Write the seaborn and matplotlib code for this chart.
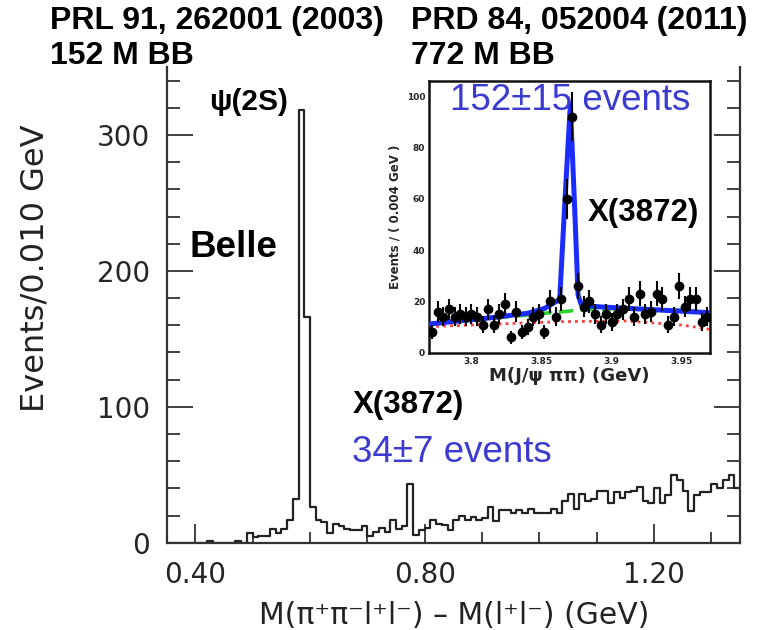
import numpy as np
import pandas as pd
import matplotlib
matplotlib.use("Agg")
import matplotlib.pyplot as plt
import seaborn as sns

# ---- main spectrum: M(pi+ pi- l+ l-) - M(l+ l-), 0.010 GeV bins from 0.35 to 1.35 ----
bin_lo = 0.35
bin_hi = 1.35
bin_w = 0.01
counts = [
    0, 0, 0, 0, 0, 0, 0, 1, 0, 0,          # 0.35-0.44
    0, 0, 1, 0, 7, 4, 5, 5, 10, 7,         # 0.45-0.54
    10, 17, 32, 318, 166, 26, 17, 15, 7, 14,  # 0.55-0.64
    12, 10, 9, 9, 12, 5, 8, 11, 8, 17,     # 0.65-0.74
    10, 12, 43, 6, 9, 11, 17, 14, 13, 9,   # 0.75-0.84
    17, 20, 17, 19, 17, 18, 26, 16, 24, 24,  # 0.85-0.94
    22, 24, 22, 25, 22, 22, 22, 25, 22, 31,  # 0.95-1.04
    36, 25, 36, 31, 32, 38, 38, 29, 37, 33,  # 1.05-1.14
    37, 38, 41, 31, 29, 40, 29, 35, 50, 46,  # 1.15-1.24
    38, 23, 35, 37, 37, 43, 40, 46, 50, 40,  # 1.25-1.34
]
x_ticks = [0.40, 0.80, 1.20]
x_tick_labels = ["0.40", "0.80", "1.20"]
y_ticks = [0, 100, 200, 300]

# ---- inset: M(J/psi pi pi), 0.004 GeV bins from 3.77 to 3.97 ----
inset_lo = 3.77
inset_w = 0.004
inset_n = [
    8, 16, 14, 17, 14, 15, 14, 15, 14, 11,
    17, 11, 15, 19, 6, 16, 8, 10, 14, 15,
    8, 20, 14, 21, 60, 92, 26, 18, 20, 15,
    11, 15, 12, 15, 17, 21, 14, 23, 15, 16,
    23, 21, 11, 14, 26, 18, 21, 21, 12, 14,
]
inset_xticks = [3.80, 3.85, 3.90, 3.95]
inset_xlabels = ["3.8", "3.85", "3.9", "3.95"]
inset_yticks = [0, 20, 40, 60, 80, 100]
# fit curves
fit_x = [3.770, 3.8166, 3.8403, 3.8522, 3.8629, 3.8667, 3.8705, 3.8733,
         3.8760, 3.8784, 3.8879, 3.9116, 3.970]
fit_y = [11.2, 13.8, 15.4, 17.3, 20.8, 60.0, 97.0, 60.0,
         22.5, 18.6, 18.0, 17.3, 15.6]
bkg_x = [3.770, 3.8166, 3.8522, 3.865, 3.880, 3.910, 3.950, 3.970]
bkg_y = [11.2, 13.5, 15.4, 16.0, 16.8, 17.3, 16.5, 15.6]
comb_x = [3.770, 3.800, 3.863, 3.910, 3.950, 3.970]
comb_y = [10.2, 10.8, 12.1, 12.4, 10.8, 9.1]

W, H = 763, 630
BLUE_TXT = "#3b3bd2"
NATIVE = ["DejaVu Sans"]
OVER = ["Liberation Sans", "DejaVu Sans"]

sns.set_theme(style="white")
plt.rcParams["font.family"] = NATIVE
plt.rcParams["axes.edgecolor"] = "#333333"

fig = plt.figure(figsize=(W / 100, H / 100), dpi=100)


def fx(px):
    return px / W


def fy(py):
    return 1 - py / H


# ---------------- main histogram ----------------
ax = fig.add_axes([fx(166.7), fy(542.7), fx(740) - fx(166.7), fy(67) - fy(542.7)])
centers = bin_lo + bin_w * (np.arange(len(counts)) + 0.5)
df = pd.DataFrame({"mass": centers, "n": counts})
sns.histplot(data=df, x="mass", weights="n", binwidth=bin_w, binrange=(bin_lo, bin_hi),
             element="step", fill=False, color="#222222", linewidth=1.6, ax=ax)
ax.set_xlim(bin_lo, bin_hi)
ax.set_ylim(0, 350)
ax.set_xticks(x_ticks)
ax.set_xticklabels(x_tick_labels)
ax.set_xticks(np.arange(0.4, 1.35, 0.1), minor=True)
ax.set_yticks(y_ticks)
ax.set_yticks(np.arange(0, 350, 20), minor=True)
for s in ["left", "bottom", "right"]:
    ax.spines[s].set_linewidth(1.6)
    ax.spines[s].set_color("#333333")
ax.spines["top"].set_visible(False)
ax.tick_params(axis="both", which="both", direction="in", color="#333333", width=1.3)
ax.tick_params(axis="y", which="major", length=19, right=True, left=True, labelsize=20, pad=12)
ax.tick_params(axis="y", which="minor", length=9.5, right=True, left=True)
ax.tick_params(axis="x", which="major", length=14, bottom=True, labelsize=20, pad=13)
ax.tick_params(axis="x", which="minor", length=8, bottom=True)
ax.set_xlabel("M(π⁺π⁻l⁺l⁻) – M(l⁺l⁻) (GeV)", fontsize=21.5, color="#222222")
ax.xaxis.set_label_coords((454 - 166.7) / 573.3, -(615 - 542.7) / 475.7)
ax.xaxis.label.set_va("center")
ax.set_ylabel("Events/0.010 GeV", fontsize=23, color="#222222")
ax.yaxis.set_label_coords((35 - 166.7) / 573.3, (542.7 - 268) / 475.7)
ax.yaxis.label.set_va("center")
ax.grid(False)

# ---------------- inset: X(3872) -> J/psi pi pi ----------------
ins = fig.add_axes([fx(429.3), fy(352.7), fx(710) - fx(429.3), fy(81) - fy(352.7)])
ins.set_facecolor("white")
inset_x = inset_lo + inset_w * (np.arange(len(inset_n)) + 0.5)
sns.lineplot(x=comb_x, y=comb_y, color="#ff3b3b", linestyle=(0, (1, 1.5)),
             linewidth=2.0, ax=ins)
sns.lineplot(x=bkg_x, y=bkg_y, color="#2bd42b", linestyle=(0, (4, 2)),
             linewidth=2.6, ax=ins)
sns.lineplot(x=fit_x, y=fit_y, color="#1a2cff", linewidth=3.6, ax=ins, zorder=3)
ins.errorbar(inset_x, inset_n, yerr=np.sqrt(inset_n), xerr=inset_w / 2, fmt="o",
             color="black", ms=6, elinewidth=1.5, capsize=0, zorder=4)
ins.set_xlim(inset_lo, inset_lo + inset_w * len(inset_n))
ins.set_ylim(0, 106)
ins.set_xticks(inset_xticks)
ins.set_xticklabels(inset_xlabels)
ins.set_xticks(np.arange(3.78, 3.97, 0.01), minor=True)
ins.set_yticks(inset_yticks)
ins.set_yticks(np.arange(0, 106, 5), minor=True)
for s in ins.spines.values():
    s.set_linewidth(1.8)
    s.set_color("#111111")
ins.tick_params(axis="both", which="both", direction="in", color="#111111", width=1.0)
ins.tick_params(axis="both", which="major", length=7, labelsize=6.5, pad=3)
ins.tick_params(axis="both", which="minor", length=3.5)
for lab in ins.get_xticklabels() + ins.get_yticklabels():
    lab.set_fontweight("bold")
ins.set_xlabel("M(J/ψ ππ) (GeV)", fontsize=13, fontweight="bold", labelpad=1)
ins.set_ylabel("Events / ( 0.004 GeV )", fontsize=8.5, fontweight="bold", labelpad=4)
ins.grid(False)

# ---------------- annotations ----------------
bold = dict(family=OVER, fontweight="bold", color="black")
fig.text(fx(50), fy(6), "PRL 91, 262001 (2003)", fontsize=23, va="top", ha="left", **bold)
fig.text(fx(50), fy(41), "152 M BB", fontsize=23, va="top", ha="left", **bold)
fig.text(fx(411), fy(6), "PRD 84, 052004 (2011)", fontsize=23, va="top", ha="left", **bold)
fig.text(fx(411), fy(41), "772 M BB", fontsize=23, va="top", ha="left", **bold)

fig.text(fx(209), fy(102), "ψ(2S)", fontsize=21.5, va="center", ha="left", **bold)
fig.text(fx(190), fy(248), "Belle", fontsize=26.5, va="center", ha="left", **bold)
fig.text(fx(353), fy(405), "X(3872)", fontsize=22.5, va="center", ha="left", **bold)
fig.text(fx(588), fy(213), "X(3872)", fontsize=22.5, va="center", ha="left", **bold)

fig.text(fx(352), fy(452), "34±7 events", fontsize=26.5, va="center", ha="left",
         family=OVER, color=BLUE_TXT)
fig.text(fx(450), fy(101), "152±15 events", fontsize=26.5, va="center", ha="left",
         family=OVER, color=BLUE_TXT, zorder=10)

fig.savefig("out.png", dpi=100, facecolor="white")
